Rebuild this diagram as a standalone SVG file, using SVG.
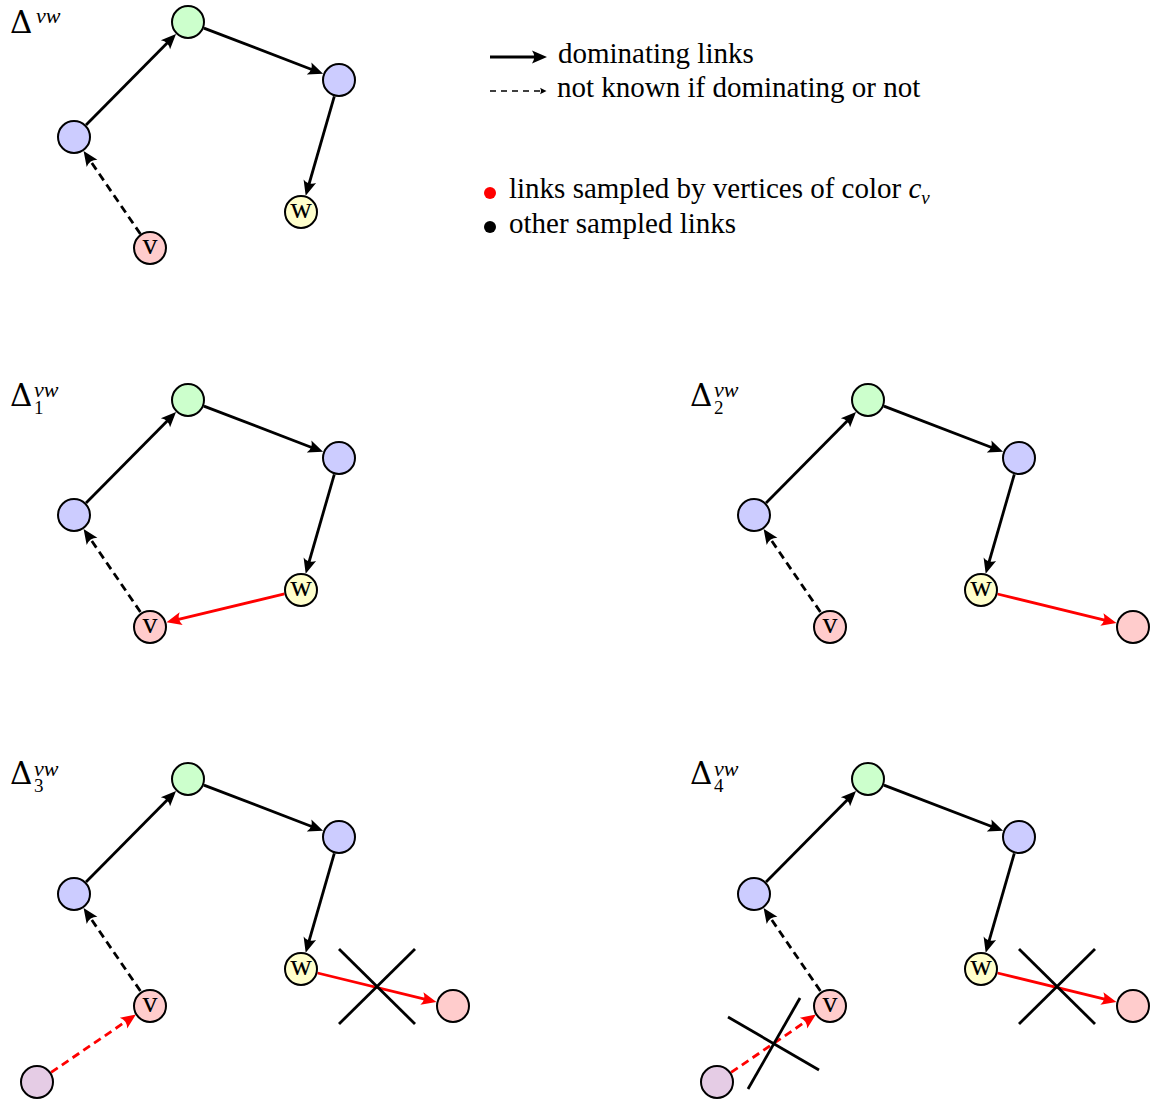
<svg xmlns="http://www.w3.org/2000/svg" width="1151" height="1099" viewBox="0 0 1151 1099">
<style>
.n{stroke:#000;stroke-width:2}
.g{fill:#ccffcc}.b{fill:#ccccff}.y{fill:#ffffcc}.r{fill:#ffcccc}.p{fill:#e5cce5}
.e{fill:none;stroke:#000;stroke-width:2.8}
.er{fill:none;stroke:#ff0000;stroke-width:2.8}
.d{stroke-dasharray:8 5}
.x{stroke:#000;stroke-width:2.8}
.t{font-family:"Liberation Serif","Times New Roman",serif;fill:#000}
.dl{font-family:"DejaVu Serif","Liberation Serif",serif;font-size:31px}
.sp{font-family:"Liberation Serif","Times New Roman",serif;font-style:italic;font-size:22px}
.sb{font-family:"Liberation Serif","Times New Roman",serif;font-size:19px}
.lbl{font-size:30px;text-anchor:middle}
.leg{font-size:29px}
.it{font-style:italic}
</style>
<defs>
<marker id="ah" viewBox="-8 -8 17 16" markerWidth="17" markerHeight="16" refX="0" refY="0" orient="auto" markerUnits="userSpaceOnUse">
<path d="M8,0 L-7,-6.5 Q-2.5,0 -7,6.5 Z" fill="#000"/>
</marker>
<marker id="ahr" viewBox="-8 -8 17 16" markerWidth="17" markerHeight="16" refX="0" refY="0" orient="auto" markerUnits="userSpaceOnUse">
<path d="M8,0 L-7,-6.5 Q-2.5,0 -7,6.5 Z" fill="#ff0000"/>
</marker>
<marker id="ahs" viewBox="-4 -4 8 8" markerWidth="8" markerHeight="8" refX="0" refY="0" orient="auto" markerUnits="userSpaceOnUse">
<path d="M3.5,0 L-3,-3.2 Q-1,0 -3,3.2 Z" fill="#000"/>
</marker>
</defs>

<!-- Legend -->
<g id="legend">
<line x1="490" y1="57" x2="539" y2="57" class="e" marker-end="url(#ah)"/>
<text x="558" y="63" class="t leg">dominating links</text>
<line x1="490" y1="91" x2="543" y2="91" stroke="#000" stroke-width="1.4" stroke-dasharray="6 5" marker-end="url(#ahs)"/>
<text x="557" y="97" class="t leg">not known if dominating or not</text>
<circle cx="490" cy="193" r="6" fill="#ff0000"/>
<text x="509" y="198" class="t leg">links sampled by vertices of color <tspan class="it">c</tspan><tspan class="it" font-size="19" dy="6">v</tspan></text>
<circle cx="490" cy="227" r="6" fill="#000"/>
<text x="509" y="233" class="t leg">other sampled links</text>
</g>

<!-- Panel 0 -->
<g id="panel0">
<text x="10" y="33" class="t dl">Δ<tspan class="sp" x="36" y="23">vw</tspan></text>
<g id="p0-connectors">
<line x1="86" y1="124.9" x2="170.4" y2="39.8" class="e" marker-end="url(#ah)"/>
<line x1="203.9" y1="28.1" x2="315.6" y2="71.0" class="e" marker-end="url(#ah)"/>
<line x1="334.3" y1="96.3" x2="307.9" y2="188" class="e" marker-end="url(#ah)"/>
<line x1="140.4" y1="234" x2="88.1" y2="157.6" class="e d" marker-end="url(#ah)"/>
</g>
<g id="p0-top"><circle cx="188" cy="22" r="16" class="n g"/></g>
<g id="p0-right"><circle cx="339" cy="80" r="16" class="n b"/></g>
<g id="p0-left"><circle cx="74" cy="137" r="16" class="n b"/></g>
<g id="p0-w"><circle cx="301" cy="212" r="16" class="n y"/><text x="301" y="218" class="t lbl">w</text></g>
<g id="p0-v"><circle cx="150" cy="248" r="16" class="n r"/><text x="150" y="254" class="t lbl">v</text></g>
</g>

<!-- Panel 1 -->
<g id="panel1" transform="translate(0,378)">
<text x="10" y="28" class="t dl">Δ<tspan class="sp" x="34" y="19">vw</tspan><tspan class="sb" x="34" y="36">1</tspan></text>
<g id="p1-connectors">
<line x1="86" y1="124.9" x2="170.4" y2="39.8" class="e" marker-end="url(#ah)"/>
<line x1="203.9" y1="28.1" x2="315.6" y2="71.0" class="e" marker-end="url(#ah)"/>
<line x1="334.3" y1="96.3" x2="307.9" y2="188" class="e" marker-end="url(#ah)"/>
<line x1="140.4" y1="234" x2="88.1" y2="157.6" class="e d" marker-end="url(#ah)"/>
<line x1="284.5" y1="215.9" x2="174.3" y2="242.3" class="er" marker-end="url(#ahr)"/>
</g>
<g id="p1-top"><circle cx="188" cy="22" r="16" class="n g"/></g>
<g id="p1-right"><circle cx="339" cy="80" r="16" class="n b"/></g>
<g id="p1-left"><circle cx="74" cy="137" r="16" class="n b"/></g>
<g id="p1-w"><circle cx="301" cy="212" r="16" class="n y"/><text x="301" y="218" class="t lbl">w</text></g>
<g id="p1-v"><circle cx="150" cy="249" r="16" class="n r"/><text x="150" y="255" class="t lbl">v</text></g>
</g>

<!-- Panel 2 -->
<g id="panel2" transform="translate(680,378)">
<text x="10" y="28" class="t dl">Δ<tspan class="sp" x="34" y="19">vw</tspan><tspan class="sb" x="34" y="36">2</tspan></text>
<g id="p2-connectors">
<line x1="86" y1="124.9" x2="170.4" y2="39.8" class="e" marker-end="url(#ah)"/>
<line x1="203.9" y1="28.1" x2="315.6" y2="71.0" class="e" marker-end="url(#ah)"/>
<line x1="334.3" y1="96.3" x2="307.9" y2="188" class="e" marker-end="url(#ah)"/>
<line x1="140.4" y1="234" x2="88.1" y2="157.6" class="e d" marker-end="url(#ah)"/>
<line x1="317.5" y1="216" x2="428.7" y2="243.1" class="er" marker-end="url(#ahr)"/>
</g>
<g id="p2-top"><circle cx="188" cy="22" r="16" class="n g"/></g>
<g id="p2-right"><circle cx="339" cy="80" r="16" class="n b"/></g>
<g id="p2-left"><circle cx="74" cy="137" r="16" class="n b"/></g>
<g id="p2-w"><circle cx="301" cy="212" r="16" class="n y"/><text x="301" y="218" class="t lbl">w</text></g>
<g id="p2-v"><circle cx="150" cy="249" r="16" class="n r"/><text x="150" y="255" class="t lbl">v</text></g>
<g id="p2-x"><circle cx="453" cy="249" r="16" class="n r"/></g>
</g>

<!-- Panel 3 -->
<g id="panel3" transform="translate(0,757)">
<text x="10" y="27" class="t dl">Δ<tspan class="sp" x="34" y="19">vw</tspan><tspan class="sb" x="34" y="35">3</tspan></text>
<g id="p3-connectors">
<line x1="86" y1="124.9" x2="170.4" y2="39.8" class="e" marker-end="url(#ah)"/>
<line x1="203.9" y1="28.1" x2="315.6" y2="71.0" class="e" marker-end="url(#ah)"/>
<line x1="334.3" y1="96.3" x2="307.9" y2="188" class="e" marker-end="url(#ah)"/>
<line x1="140.4" y1="234" x2="88.1" y2="157.6" class="e d" marker-end="url(#ah)"/>
<line x1="317.5" y1="216" x2="428.7" y2="243.1" class="er" marker-end="url(#ahr)"/>
<line x1="51.1" y1="315.4" x2="129.3" y2="262.1" class="er d" marker-end="url(#ahr)"/>
<line x1="339" y1="192" x2="415" y2="267" class="x"/>
<line x1="415" y1="192" x2="339" y2="267" class="x"/>
</g>
<g id="p3-top"><circle cx="188" cy="22" r="16" class="n g"/></g>
<g id="p3-right"><circle cx="339" cy="80" r="16" class="n b"/></g>
<g id="p3-left"><circle cx="74" cy="137" r="16" class="n b"/></g>
<g id="p3-w"><circle cx="301" cy="212" r="16" class="n y"/><text x="301" y="218" class="t lbl">w</text></g>
<g id="p3-v"><circle cx="150" cy="249" r="16" class="n r"/><text x="150" y="255" class="t lbl">v</text></g>
<g id="p3-x"><circle cx="453" cy="249" r="16" class="n r"/></g>
<g id="p3-u"><circle cx="37" cy="325" r="16" class="n p"/></g>
</g>

<!-- Panel 4 -->
<g id="panel4" transform="translate(680,757)">
<text x="10" y="27" class="t dl">Δ<tspan class="sp" x="34" y="19">vw</tspan><tspan class="sb" x="34" y="35">4</tspan></text>
<g id="p4-connectors">
<line x1="86" y1="124.9" x2="170.4" y2="39.8" class="e" marker-end="url(#ah)"/>
<line x1="203.9" y1="28.1" x2="315.6" y2="71.0" class="e" marker-end="url(#ah)"/>
<line x1="334.3" y1="96.3" x2="307.9" y2="188" class="e" marker-end="url(#ah)"/>
<line x1="140.4" y1="234" x2="88.1" y2="157.6" class="e d" marker-end="url(#ah)"/>
<line x1="317.5" y1="216" x2="428.7" y2="243.1" class="er" marker-end="url(#ahr)"/>
<line x1="51.1" y1="315.4" x2="129.3" y2="262.1" class="er d" marker-end="url(#ahr)"/>
<line x1="339" y1="192" x2="415" y2="267" class="x"/>
<line x1="415" y1="192" x2="339" y2="267" class="x"/>
<line x1="48" y1="260" x2="139" y2="313" class="x"/>
<line x1="120" y1="241" x2="68" y2="332" class="x"/>
</g>
<g id="p4-top"><circle cx="188" cy="22" r="16" class="n g"/></g>
<g id="p4-right"><circle cx="339" cy="80" r="16" class="n b"/></g>
<g id="p4-left"><circle cx="74" cy="137" r="16" class="n b"/></g>
<g id="p4-w"><circle cx="301" cy="212" r="16" class="n y"/><text x="301" y="218" class="t lbl">w</text></g>
<g id="p4-v"><circle cx="150" cy="249" r="16" class="n r"/><text x="150" y="255" class="t lbl">v</text></g>
<g id="p4-x"><circle cx="453" cy="249" r="16" class="n r"/></g>
<g id="p4-u"><circle cx="37" cy="325" r="16" class="n p"/></g>
</g>
</svg>
